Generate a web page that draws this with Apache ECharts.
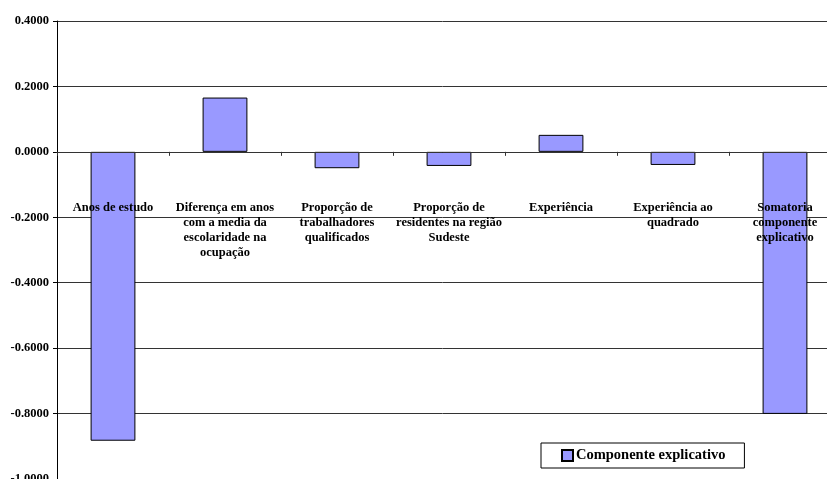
<!DOCTYPE html>
<html>
<head>
<meta charset="utf-8">
<script src="https://cdn.jsdelivr.net/npm/echarts@6/dist/echarts.min.js"></script>
<style>
    html,body{margin:0;padding:0;background:#fff;}
    #chart{width:827px;height:479px;}
</style>
</head>
<body>
<div id="chart"></div>
<script>
// categorias e valores
var categorias = [
    "Anos de estudo",
    "Diferença em anos\ncom a media da\nescolaridade na\nocupação",
    "Proporção de\ntrabalhadores\nqualificados",
    "Proporção de\nresidentes na região\nSudeste",
    "Experiência",
    "Experiência ao\nquadrado",
    "Somatoria\ncomponente\nexplicativo"
];
var componente = [-0.883, 0.166, -0.050, -0.043, 0.052, -0.040, -0.801];
var nomeSerie = "Componente explicativo";

var fonte = "'Liberation Serif', 'Times New Roman', serif";

var chart = echarts.init(document.getElementById('chart'));

// os rotulos das categorias ficam logo abaixo da linha do zero (como no excel)
var gridTop = 21, gridAltura = 458;
var topoRotulo = 200;

var option = {
    animation: false,
    backgroundColor: '#fff',
    grid: {left: 57, top: gridTop, width: 784, height: gridAltura, outerBoundsMode: 'none', containLabel: false},
    legend: {
        data: [nomeSerie],
        left: 541,
        top: 443,
        padding: [5, 19, 5, 20],
        itemWidth: 11,
        itemHeight: 11,
        itemGap: 0,
        borderColor: '#000',
        borderWidth: 1,
        backgroundColor: '#fff',
        icon: 'rect',
        textStyle: {fontFamily: fonte, fontWeight: 'bold', fontSize: 14.5, color: '#000', padding: [0, 0, 0, -2]}
    },
    xAxis: {
        type: 'category',
        data: categorias,
        z: 3,
        axisLine: {onZero: true, lineStyle: {color: '#333', width: 1}},
        axisTick: {show: true, length: 4, lineStyle: {color: '#333'}},
        axisLabel: {
            interval: 0,
            margin: topoRotulo - (gridTop + gridAltura),
            verticalAlign: 'top',
            fontFamily: fonte,
            fontWeight: 'bold',
            fontSize: 12.5,
            lineHeight: 15,
            color: '#000'
        },
        splitLine: {show: false}
    },
    yAxis: {
        type: 'value',
        min: -1,
        max: 0.4,
        interval: 0.2,
        axisLine: {show: true, lineStyle: {color: '#000', width: 1}},
        axisTick: {show: true, length: 4, lineStyle: {color: '#000'}},
        axisLabel: {
            margin: 8,
            fontFamily: fonte,
            fontWeight: 'bold',
            fontSize: 12.5,
            color: '#000',
            formatter: function (v) { return v.toFixed(4); }
        },
        splitLine: {show: true, lineStyle: {color: '#333', width: 1}}
    },
    series: [{
        name: nomeSerie,
        type: 'bar',
        data: componente,
        barWidth: '40%',
        itemStyle: {color: '#9999FF', borderColor: '#000', borderWidth: 1}
    }]
};

chart.setOption(option);
</script>
</body>
</html>
